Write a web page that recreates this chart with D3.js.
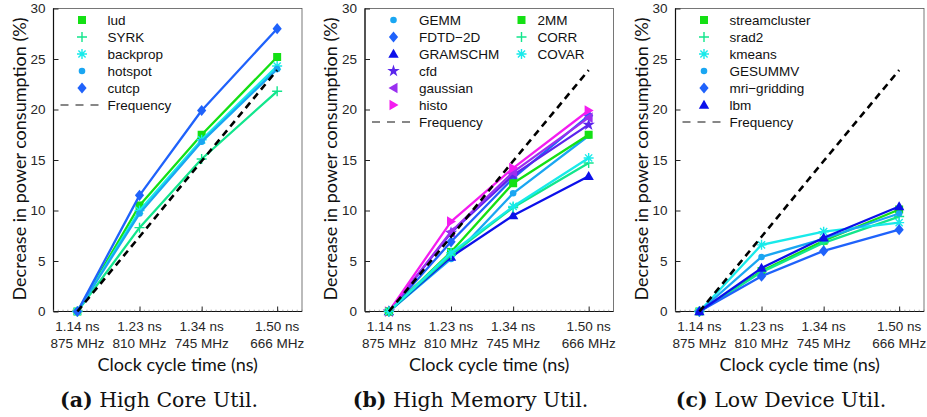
<!DOCTYPE html>
<html><head><meta charset="utf-8">
<script src="https://cdn.jsdelivr.net/npm/d3@7"></script>
<style>html,body{margin:0;padding:0;background:#fff;}svg{display:block;}</style>
</head><body>
<svg id="chart" width="927" height="417"></svg>
<script>
// ---- data ----
const freqMHz = [875, 810, 745, 666];
const nsLabels = ["1.14 ns", "1.23 ns", "1.34 ns", "1.50 ns"];
const mhzLabels = ["875 MHz", "810 MHz", "745 MHz", "666 MHz"];
const yTicks = [0, 5, 10, 15, 20, 25, 30];
const frequencyDecrease = [0, 7.4, 14.9, 23.9];

// panel (a) High Core Util.
const coreNames = ["lud", "SYRK", "backprop", "hotspot", "cutcp"];
const coreValues = [
  [0, 10.5, 17.5, 25.2],
  [0, 8.3, 15.1, 21.8],
  [0, 10.0, 17.0, 24.3],
  [0, 9.7, 16.8, 24.0],
  [0, 11.5, 19.9, 28.0]
];
const coreMarkers = ["square", "plus", "asterisk", "circle", "diamond"];

// panel (b) High Memory Util.
const memNames = ["GEMM", "FDTD\u22122D", "GRAMSCHM", "cfd", "gaussian", "histo", "2MM", "CORR", "COVAR"];
const memValues = [
  [0, 5.2, 11.7, 17.4],
  [0, 6.9, 13.2, 19.4],
  [0, 5.4, 9.5, 13.4],
  [0, 7.8, 13.5, 18.5],
  [0, 7.9, 13.8, 19.2],
  [0, 8.9, 14.2, 19.9],
  [0, 5.9, 12.7, 17.5],
  [0, 5.6, 10.3, 14.7],
  [0, 5.8, 10.4, 15.2]
];
const memMarkers = ["circle", "diamond", "triUp", "star", "triLeft", "triRight", "square", "plus", "asterisk"];

// panel (c) Low Device Util.
const lowNames = ["streamcluster", "srad2", "kmeans", "GESUMMV", "mri\u2212gridding", "lbm"];
const lowValues = [
  [0, 4.0, 7.0, 10.1],
  [0, 3.9, 6.8, 9.4],
  [0, 6.6, 7.9, 8.8],
  [0, 5.4, 7.2, 9.7],
  [0, 3.5, 6.0, 8.1],
  [0, 4.3, 7.3, 10.4]
];
const lowMarkers = ["square", "plus", "asterisk", "circle", "diamond", "triUp"];

const captionTags = ["(a)", "(b)", "(c)"];
const captionTexts = ["High Core Util.", "High Memory Util.", "Low Device Util."];

// ---- styles ----
const markerColor = {
  square: "#14e014", plus: "#12e68c", asterisk: "#18eaea", circle: "#1aa6f2",
  diamond: "#1f62fb", triUp: "#0c10ea", star: "#5a25ec", triLeft: "#9a2ff0", triRight: "#f41cf0"
};
const stroked = {plus: true, asterisk: true};
function markerPath(t) {
  switch (t) {
    case "square": return "M-4,-4h8v8h-8z";
    case "diamond": return "M0,-5.6L4.6,0L0,5.6L-4.6,0Z";
    case "circle": return d3.symbol(d3.symbolCircle, 34)();
    case "triUp": return "M0,-5.2L5.2,3.8L-5.2,3.8Z";
    case "triLeft": return "M-5,0L4,-5.3L4,5.3Z";
    case "triRight": return "M5,0L-4,-5.3L-4,5.3Z";
    case "star": return d3.symbol(d3.symbolStar, 48)();
    case "plus": return "M-5,0H5M0,-5V5";
    case "asterisk": return "M-5,0H5M0,-5V5M-3.6,-3.6L3.6,3.6M-3.6,3.6L3.6,-3.6";
  }
}
function drawMarker(g, t, x, y) {
  const p = g.append("path").attr("d", markerPath(t)).attr("transform", `translate(${x},${y})`);
  if (stroked[t]) p.attr("fill", "none").attr("stroke", markerColor[t]).attr("stroke-width", 1.4);
  else p.attr("fill", markerColor[t]).attr("stroke", "none");
}

const svg = d3.select("#chart");
const plotTop = 8.5, plotBottom = 311.5, plotWidth = 248.5;
const lefts = [53.5, 365, 675.5];
const sansTick = "'Liberation Sans', Arial, sans-serif";
const titleFont = "Lato, 'Open Sans', sans-serif";

const panels = [
  {names: coreNames, values: coreValues, markers: coreMarkers, cols: 1},
  {names: memNames, values: memValues, markers: memMarkers, cols: 2},
  {names: lowNames, values: lowValues, markers: lowMarkers, cols: 1}
];

panels.forEach((P, pi) => {
  const L = lefts[pi];
  const x = d3.scaleLinear().domain([900, 640]).range([L, L + plotWidth]);
  const y = d3.scaleLinear().domain([0, 30]).range([plotBottom, plotTop]);
  const g = svg.append("g");

  // frame
  g.append("rect").attr("x", L).attr("y", plotTop).attr("width", plotWidth).attr("height", plotBottom - plotTop)
    .attr("fill", "none").attr("stroke", "#555").attr("stroke-width", 0.8);
  g.append("line").attr("x1", L).attr("x2", L).attr("y1", plotTop).attr("y2", plotBottom)
    .attr("stroke", "#111").attr("stroke-width", 1.2);
  g.append("line").attr("x1", L).attr("x2", L + plotWidth).attr("y1", plotBottom).attr("y2", plotBottom)
    .attr("stroke", "#111").attr("stroke-width", 1.2);

  // minor x ticks
  d3.range(900, 639, -5).forEach(f => {
    g.append("line").attr("x1", x(f)).attr("x2", x(f)).attr("y1", plotBottom).attr("y2", plotBottom - 1.8)
      .attr("stroke", "#777").attr("stroke-width", 0.6);
  });

  // y axis (ticks inside)
  const yAxis = d3.axisLeft(y).tickValues(yTicks).tickSize(-5).tickPadding(8);
  const ya = g.append("g").attr("transform", `translate(${L},0)`).call(yAxis);
  ya.select(".domain").remove();
  ya.selectAll(".tick line").attr("stroke", "#222");
  ya.selectAll(".tick text").attr("font-family", sansTick).attr("font-size", 13.5).attr("fill", "#262626");

  // x axis (ticks inside), two-line labels
  const xAxis = d3.axisBottom(x).tickValues(freqMHz).tickSize(-5).tickFormat("");
  const xa = g.append("g").attr("transform", `translate(0,${plotBottom})`).call(xAxis);
  xa.select(".domain").remove();
  xa.selectAll(".tick line").attr("stroke", "#222");
  freqMHz.forEach((f, i) => {
    g.append("text").attr("x", x(f)).attr("y", 331).attr("text-anchor", "middle")
      .attr("font-family", sansTick).attr("font-size", 13.5).attr("fill", "#262626").text(nsLabels[i]);
    g.append("text").attr("x", x(f)).attr("y", 348).attr("text-anchor", "middle")
      .attr("font-family", sansTick).attr("font-size", 13.5).attr("fill", "#262626").text(mhzLabels[i]);
  });

  // titles
  g.append("text").attr("x", L + plotWidth / 2).attr("y", 371).attr("text-anchor", "middle")
    .attr("font-family", titleFont).attr("font-size", 18).attr("fill", "#111").text("Clock cycle time (ns)");
  g.append("text").attr("transform", `translate(${L - 28},${(plotTop + plotBottom) / 2 - 1}) rotate(-90)`)
    .attr("text-anchor", "middle").attr("font-family", titleFont).attr("font-size", 18).attr("fill", "#111")
    .text("Decrease in power consumption (%)");

  // caption
  const cap = g.append("text").attr("x", L + 105.5).attr("y", 407).attr("text-anchor", "middle")
    .attr("font-family", "'DejaVu Serif', serif").attr("font-size", 20.5).attr("fill", "#111");
  cap.append("tspan").attr("font-weight", "bold").text(captionTags[pi]);
  cap.append("tspan").text(" " + captionTexts[pi]);

  // series
  const line = d3.line().x((d, i) => x(freqMHz[i])).y(d => y(d));
  P.values.forEach((vals, si) => {
    const t = P.markers[si];
    g.append("path").datum(vals).attr("d", line).attr("fill", "none")
      .attr("stroke", markerColor[t]).attr("stroke-width", 2.3).attr("stroke-linejoin", "round");
    vals.forEach((v, i) => drawMarker(g, t, x(freqMHz[i]), y(v)));
  });
  // frequency dashed
  g.append("path").datum(frequencyDecrease).attr("d", line).attr("fill", "none")
    .attr("stroke", "#000").attr("stroke-width", 2.6).attr("stroke-dasharray", "7,5");

  // legend
  const rowY = k => 20 + 17 * k;
  const perCol = P.cols === 2 ? 6 : P.names.length;
  P.names.forEach((n, si) => {
    const col = Math.floor(si / perCol), row = si % perCol;
    const mx = col === 0 ? L + 28.5 : L + 156.5;
    const tx = col === 0 ? L + 54 : L + 172.5;
    drawMarker(g, P.markers[si], mx, rowY(row));
    g.append("text").attr("x", tx).attr("y", rowY(row) + 5).attr("font-family", sansTick)
      .attr("font-size", 13.5).attr("fill", "#111").text(n);
  });
  const fr = P.cols === 2 ? 6 : P.names.length;
  g.append("line").attr("x1", L + 7).attr("x2", L + 49).attr("y1", rowY(fr)).attr("y2", rowY(fr))
    .attr("stroke", "#111").attr("stroke-width", 1.2).attr("stroke-dasharray", "8,7");
  g.append("text").attr("x", L + 54).attr("y", rowY(fr) + 5).attr("font-family", sansTick)
    .attr("font-size", 13.5).attr("fill", "#111").text("Frequency");
});
</script>
</body></html>
